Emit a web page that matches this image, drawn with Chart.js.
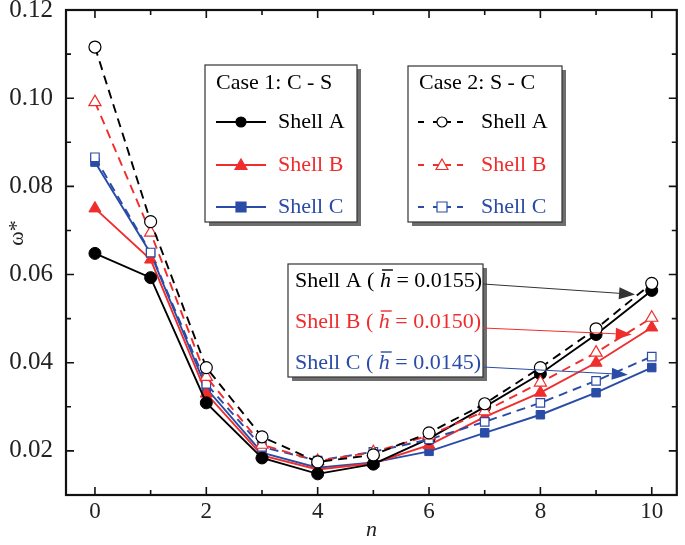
<!DOCTYPE html>
<html>
<head>
<meta charset="utf-8">
<script src="https://cdn.jsdelivr.net/npm/chart.js@4.4.1/dist/chart.umd.min.js"></script>
<style>
  body { margin: 0; background: #fff; }
  #wrap { width: 685px; height: 545px; }
</style>
</head>
<body>
<div id="wrap"><canvas id="freqChart" width="685" height="545"></canvas></div>
<script>
// Data
const nValues = [0, 1, 2, 3, 4, 5, 6, 7, 8, 9, 10];
const xTickLabels = ['0', '2', '4', '6', '8', '10'];
const yTickLabels = ['0.02', '0.04', '0.06', '0.08', '0.10', '0.12'];

// Case 1: C - S (solid, filled markers)
const cs_shellA = [0.0648, 0.0593, 0.0309, 0.0184, 0.0148, 0.0170, 0.0228, 0.0300, 0.0375, 0.0464, 0.0564];
const cs_shellB = [0.0750, 0.0634, 0.0330, 0.0190, 0.0158, 0.0172, 0.0213, 0.0277, 0.0332, 0.0400, 0.0480];
const cs_shellC = [0.0855, 0.0648, 0.0342, 0.0196, 0.0162, 0.0174, 0.0199, 0.0241, 0.0282, 0.0332, 0.0389];
// Case 2: S - C (dashed, open markers)
const sc_shellA = [0.1116, 0.0720, 0.0389, 0.0232, 0.0175, 0.0191, 0.0241, 0.0307, 0.0389, 0.0477, 0.0580];
const sc_shellB = [0.0991, 0.0695, 0.0368, 0.0214, 0.0177, 0.0197, 0.0235, 0.0290, 0.0355, 0.0423, 0.0502];
const sc_shellC = [0.0866, 0.0650, 0.0352, 0.0209, 0.0178, 0.0198, 0.0226, 0.0266, 0.0309, 0.0359, 0.0414];

// Thickness labels and arrow targets (data coords)
const shellNames = ['Shell A', 'Shell B', 'Shell C'];
const hBarValues = ['0.0155', '0.0150', '0.0145'];
const arrowTargets = [[9.70, 0.0555], [9.64, 0.0464], [9.57, 0.0373]];

const BLACK = '#000000';
const RED = '#f02d2d';
const BLUE = '#2a4ca6';
const colors = [BLACK, RED, BLUE];
const FONT = '"Liberation Serif", "DejaVu Serif", serif';

function toPoints(arr) {
    return arr.map((v, i) => ({ x: nValues[i], y: v }));
}

function solidSet(label, data, color, style) {
    return {
        label: label,
        data: toPoints(data),
        borderColor: color,
        backgroundColor: color,
        borderWidth: 1.9,
        pointStyle: style,
        pointRadius: style === 'triangle' ? 7 : 6,
        pointBorderWidth: 1,
        pointBorderColor: color,
        pointBackgroundColor: color,
        order: 2
    };
}

function dashedSet(label, data, color, style) {
    return {
        label: label,
        data: toPoints(data),
        borderColor: color,
        backgroundColor: '#ffffff',
        borderWidth: 1.9,
        borderDash: [9, 6],
        pointStyle: style,
        pointRadius: style === 'triangle' ? 7 : 6,
        pointBorderWidth: 1.2,
        pointBorderColor: color,
        pointBackgroundColor: '#ffffff',
        order: 1
    };
}

// Frame with inward ticks on all four sides, plus the rotated y title
const framePlugin = {
    id: 'frame',
    afterDatasetsDraw(chart) {
        const { ctx, chartArea: a, scales } = chart;
        const xs = scales.x, ys = scales.y;
        ctx.save();
        ctx.strokeStyle = '#111';
        ctx.lineWidth = 1.6;
        for (let k = 1; k <= 10; k++) {
            const v = 0.01 + k * 0.01;
            const py = ys.getPixelForValue(v);
            const len = (k % 2 === 1) ? 8 : 5;
            ctx.beginPath();
            ctx.moveTo(a.left, py); ctx.lineTo(a.left + len, py);
            ctx.moveTo(a.right, py); ctx.lineTo(a.right - len, py);
            ctx.stroke();
        }
        nValues.forEach(n => {
            const px = xs.getPixelForValue(n);
            const len = (n % 2 === 0) ? 8 : 5;
            ctx.beginPath();
            ctx.moveTo(px, a.bottom); ctx.lineTo(px, a.bottom - len);
            ctx.moveTo(px, a.top); ctx.lineTo(px, a.top + len);
            ctx.stroke();
        });
        ctx.lineWidth = 2.2;
        ctx.strokeRect(a.left, a.top, a.right - a.left, a.bottom - a.top);

        // y axis title
        ctx.translate(17, 233);
        ctx.rotate(-Math.PI / 2);
        ctx.fillStyle = '#222';
        ctx.font = '22px ' + FONT;
        ctx.textAlign = 'center';
        ctx.textBaseline = 'middle';
        ctx.fillText('ω*', 0, 0);
        ctx.restore();
    }
};

function drawBox(ctx, x1, y1, x2, y2) {
    ctx.fillStyle = '#6e6e6e';
    ctx.fillRect(x1 + 4, y1 + 4, x2 - x1, y2 - y1);
    ctx.fillStyle = '#ffffff';
    ctx.fillRect(x1, y1, x2 - x1, y2 - y1);
    ctx.strokeStyle = '#333';
    ctx.lineWidth = 1.2;
    ctx.strokeRect(x1, y1, x2 - x1, y2 - y1);
}

function drawMarker(ctx, style, x, y, color, filled) {
    ctx.fillStyle = filled ? color : '#ffffff';
    ctx.strokeStyle = color;
    ctx.lineWidth = 1.2;
    ctx.beginPath();
    if (style === 'circle') {
        ctx.arc(x, y, 5, 0, Math.PI * 2);
    } else if (style === 'triangle') {
        ctx.moveTo(x, y - 6); ctx.lineTo(x + 6, y + 4.5); ctx.lineTo(x - 6, y + 4.5); ctx.closePath();
    } else {
        ctx.rect(x - 5, y - 5, 10, 10);
    }
    ctx.fill();
    ctx.stroke();
}

function drawArrow(ctx, x1, y1, x2, y2, color) {
    const ang = Math.atan2(y2 - y1, x2 - x1);
    const hl = 16, hw = 6;
    const bx = x2 - hl * Math.cos(ang), by = y2 - hl * Math.sin(ang);
    ctx.strokeStyle = color;
    ctx.lineWidth = 1;
    ctx.beginPath();
    ctx.moveTo(x1, y1); ctx.lineTo(bx, by);
    ctx.stroke();
    ctx.fillStyle = color;
    ctx.beginPath();
    ctx.moveTo(x2, y2);
    ctx.lineTo(bx + hw * Math.sin(ang), by - hw * Math.cos(ang));
    ctx.lineTo(bx - hw * Math.sin(ang), by + hw * Math.cos(ang));
    ctx.closePath();
    ctx.fill();
}

// Two legend boxes plus the thickness annotation with arrows
const annotPlugin = {
    id: 'annot',
    afterDraw(chart) {
        const { ctx, scales } = chart;
        const styles = ['circle', 'triangle', 'rect'];
        const rowY = [122, 165, 207];
        ctx.save();
        ctx.textBaseline = 'middle';
        ctx.textAlign = 'left';
        ctx.font = '22px ' + FONT;

        // Case 1 box
        drawBox(ctx, 205, 65, 357, 222);
        ctx.fillStyle = '#000';
        ctx.fillText('Case 1: C - S', 216, 83);
        for (let i = 0; i < 3; i++) {
            ctx.strokeStyle = colors[i];
            ctx.lineWidth = 1.8;
            ctx.beginPath();
            ctx.moveTo(216, rowY[i]); ctx.lineTo(266, rowY[i]);
            ctx.stroke();
            drawMarker(ctx, styles[i], 241, rowY[i], colors[i], true);
            ctx.fillStyle = colors[i];
            ctx.fillText(shellNames[i], 278, rowY[i]);
        }

        // Case 2 box
        drawBox(ctx, 408, 66, 562, 222);
        ctx.fillStyle = '#000';
        ctx.fillText('Case 2: S - C', 419, 83);
        for (let i = 0; i < 3; i++) {
            ctx.strokeStyle = colors[i];
            ctx.lineWidth = 1.8;
            ctx.beginPath();
            ctx.moveTo(418, rowY[i]); ctx.lineTo(424, rowY[i]);
            ctx.moveTo(433, rowY[i]); ctx.lineTo(451, rowY[i]);
            ctx.moveTo(457, rowY[i]); ctx.lineTo(463, rowY[i]);
            ctx.stroke();
            drawMarker(ctx, styles[i], 442, rowY[i], colors[i], false);
            ctx.fillStyle = colors[i];
            ctx.fillText(shellNames[i], 481, rowY[i]);
        }

        // Thickness annotation
        drawBox(ctx, 288, 264, 483, 377);
        const textY = [281, 322, 363];
        const startY = [284, 328, 367];
        for (let i = 0; i < 3; i++) {
            let x = 295;
            const y = textY[i];
            ctx.fillStyle = colors[i];
            ctx.font = '22px ' + FONT;
            const p1 = shellNames[i] + ' ( ';
            ctx.fillText(p1, x, y);
            x += ctx.measureText(p1).width;
            ctx.font = 'italic 22px ' + FONT;
            ctx.fillText('h', x, y);
            const hw = ctx.measureText('h').width;
            ctx.strokeStyle = colors[i];
            ctx.lineWidth = 1.4;
            ctx.beginPath();
            ctx.moveTo(x + 2, y - 11); ctx.lineTo(x + hw + 2, y - 11);
            ctx.stroke();
            x += hw;
            ctx.font = '22px ' + FONT;
            ctx.fillText(' = ' + hBarValues[i] + ')', x, y);

            const tx = scales.x.getPixelForValue(arrowTargets[i][0]);
            const ty = scales.y.getPixelForValue(arrowTargets[i][1]);
            drawArrow(ctx, 483, startY[i], tx, ty, i === 0 ? '#333' : colors[i]);
        }
        ctx.restore();
    }
};

const ctx = document.getElementById('freqChart').getContext('2d');

new Chart(ctx, {
    type: 'line',
    data: {
        datasets: [
            dashedSet('Case 2 Shell A', sc_shellA, BLACK, 'circle'),
            dashedSet('Case 2 Shell B', sc_shellB, RED, 'triangle'),
            dashedSet('Case 2 Shell C', sc_shellC, BLUE, 'rect'),
            solidSet('Case 1 Shell A', cs_shellA, BLACK, 'circle'),
            solidSet('Case 1 Shell B', cs_shellB, RED, 'triangle'),
            solidSet('Case 1 Shell C', cs_shellC, BLUE, 'rect')
        ]
    },
    options: {
        responsive: false,
        animation: false,
        clip: false,
        layout: { padding: { top: 10, right: 5, left: 0, bottom: 0 } },
        plugins: {
            legend: { display: false },
            tooltip: { enabled: false }
        },
        scales: {
            x: {
                type: 'linear',
                min: -0.52,
                max: 10.45,
                afterFit: function(scale) {
                    scale.height = 50;
                    scale.paddingLeft = 0;
                    scale.paddingRight = 0;
                },
                afterBuildTicks: function(scale) {
                    scale.ticks = xTickLabels.map(s => ({ value: Number(s) }));
                },
                grid: { display: false, drawTicks: false },
                border: { display: false },
                ticks: {
                    autoSkip: false,
                    maxRotation: 0,
                    padding: 3,
                    color: '#222',
                    font: { family: FONT, size: 23 },
                    callback: function(value) { return String(value); }
                },
                title: {
                    display: true,
                    text: 'n',
                    color: '#222',
                    font: { family: FONT, size: 22, style: 'italic' },
                    padding: { top: 0, bottom: 2 }
                }
            },
            y: {
                type: 'linear',
                min: 0.01,
                max: 0.12,
                afterFit: function(scale) {
                    scale.width = 66;
                    scale.paddingTop = 0;
                    scale.paddingBottom = 0;
                },
                afterBuildTicks: function(scale) {
                    scale.ticks = yTickLabels.map(s => ({ value: Number(s) }));
                },
                grid: { display: false, drawTicks: false },
                border: { display: false },
                ticks: {
                    autoSkip: false,
                    padding: 13,
                    color: '#222',
                    font: { family: FONT, size: 25 },
                    callback: function(value) { return value.toFixed(2); }
                },
                title: { display: false }
            }
        }
    },
    plugins: [framePlugin, annotPlugin]
});
</script>
</body>
</html>
